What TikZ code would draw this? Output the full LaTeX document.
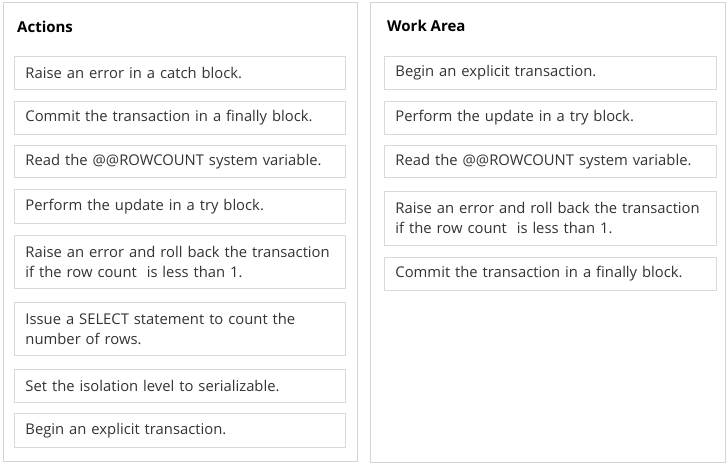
\documentclass[tikz,border=0pt]{standalone}
\usepackage{fontspec}
\setmainfont{Open Sans}
\definecolor{panelline}{HTML}{D4D4D4}
\definecolor{boxline}{HTML}{D9D9D9}
\definecolor{txt}{HTML}{333333}
\begin{document}
\begin{tikzpicture}[x=1pt,y=-1pt,
  panel/.style={draw=panelline, line width=1.2pt, fill=white, anchor=north west, inner sep=0pt},
  title/.style={anchor=west, inner sep=0pt, font=\fontsize{15}{18}\selectfont\bfseries, text=black},
  item/.style={draw=boxline, line width=0.9pt, anchor=north west, inner xsep=11pt, inner ysep=0pt,
    minimum width=331pt, text width=309pt, align=left, text=txt,
    font=\fontsize{14.8}{20}\selectfont},
  ritem/.style={item, minimum width=332pt, text width=310pt}]
\useasboundingbox[fill=white] (0,0) rectangle (728,464);
\node[panel, minimum width=354pt, minimum height=459pt] (lp) at (3,2) {};
\node[panel, minimum width=355pt, minimum height=460pt] (rp) at (370,2) {};
\node[title] (lt) at (17,27) {Actions};
\node[title] (rt) at (387,26) {Work Area};
% left items
\node[item, minimum height=33pt] (a1) at (14,56) {Raise an error in a catch block.};
\node[item, minimum height=33pt] (a2) at (14,101) {Commit the transaction in a finally block.};
\node[item, minimum height=32pt] (a3) at (14,145) {Read the @@ROWCOUNT system variable.};
\node[item, minimum height=34pt] (a4) at (14,189) {Perform the update in a try block.};
\node[item, minimum height=53pt] (a5) at (14,235) {Raise an error and roll back the transaction\\if the row count\ \ is less than 1.};
\node[item, minimum height=53pt] (a6) at (14,302) {Issue a SELECT statement to count the\\number of rows.};
\node[item, minimum height=33pt] (a7) at (14,369) {Set the isolation level to serializable.};
\node[item, minimum height=34pt] (a8) at (14,413) {Begin an explicit transaction.};
% right items
\node[ritem, minimum height=33pt] (w1) at (384,56) {Begin an explicit transaction.};
\node[ritem, minimum height=33pt] (w2) at (384,101) {Perform the update in a try block.};
\node[ritem, minimum height=32pt] (w3) at (384,145) {Read the @@ROWCOUNT system variable.};
\node[ritem, minimum height=54pt] (w4) at (384,191) {Raise an error and roll back the transaction\\if the row count\ \ is less than 1.};
\node[ritem, minimum height=33pt] (w5) at (384,257) {Commit the transaction in a finally block.};
\end{tikzpicture}
\end{document}
